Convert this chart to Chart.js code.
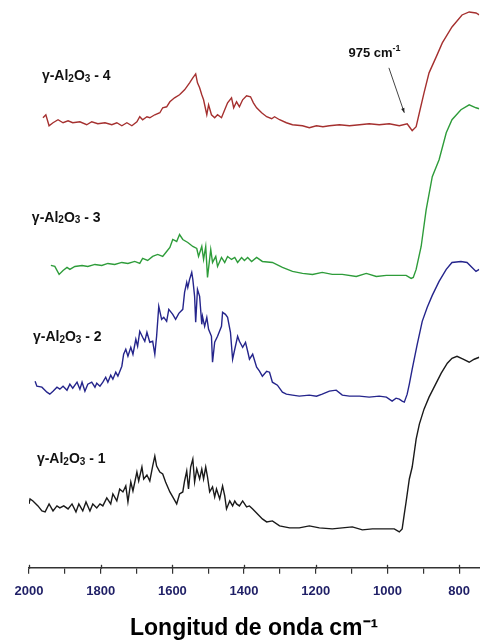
<!DOCTYPE html>
<html>
<head>
<meta charset="utf-8">
<script src="https://cdn.jsdelivr.net/npm/chart.js@4.4.1/dist/chart.umd.min.js"></script>
<style>
    html, body { margin: 0; padding: 0; background: #fff; }
    canvas { display: block; }
</style>
</head>
<body>
<canvas id="graficoFTIR" width="480" height="644"></canvas>
<script>
// Espectros FTIR (numero de onda en cm-1, intensidad en u.a. con desplazamiento)
const nombres = ['γ-Al2O3 - 1', 'γ-Al2O3 - 2', 'γ-Al2O3 - 3', 'γ-Al2O3 - 4'];
const ticksMayores = [2000, 1800, 1600, 1400, 1200, 1000, 800];

const numOnda4 = [1961,1953,1944,1933,1919,1905,1891,1878,1858,1839,
    1825,1808,1788,1769,1755,1741,1727,1713,1699,1691,
    1683,1671,1663,1649,1635,1627,1616,1607,1594,1580,
    1566,1552,1543,1535,1530,1524,1518,1513,1507,1504,
    1499,1491,1482,1474,1463,1454,1446,1435,1429,1421,
    1413,1404,1393,1382,1374,1365,1351,1337,1323,1315,
    1301,1282,1265,1237,1218,1198,1180,1162,1134,1106,
    1078,1051,1023,995,967,945,937,931,920,911,
    898,884,864,847,820,792,772,753,744];
const senal4 = [451,454,443,446,449,446,448,446,447,444,
    447,445,446,444,446,443,446,443,447,452,
    449,452,451,454,456,461,462,467,471,474,
    479,486,491,495,486,481,474,469,459,454,
    464,454,451,454,451,459,466,471,461,467,
    462,469,473,472,466,461,456,452,450,452,
    449,446,444,443,441,443,442,443,444,443,
    444,445,444,445,443,445,441,438,442,456,
    476,496,512,526,542,554,557,556,554];

const numOnda3 = [1939,1928,1916,1905,1894,1886,1872,1852,1836,1816,
    1797,1780,1761,1741,1724,1705,1691,1683,1669,1655,
    1641,1627,1616,1607,1599,1588,1580,1571,1557,1543,
    1532,1527,1518,1513,1507,1502,1493,1488,1479,1474,
    1463,1454,1446,1435,1426,1418,1407,1399,1390,1379,
    1365,1349,1321,1293,1265,1237,1209,1182,1154,1126,
    1087,1059,1031,1003,976,948,934,928,920,906,
    892,875,856,836,820,795,772,753,744];
const senal3 = [303,302,294,298,301,299,302,303,302,304,
    303,305,304,306,305,307,305,310,308,312,
    314,312,317,321,329,327,334,329,326,322,
    320,312,322,309,322,291,319,306,312,302,
    311,306,312,309,311,306,311,308,311,307,
    311,307,306,301,297,295,294,296,294,294,
    292,295,292,293,293,293,290,291,299,322,
    359,392,409,436,449,459,464,461,460];

const numOnda2 = [1983,1978,1964,1950,1942,1933,1922,1914,1905,1894,
    1886,1878,1866,1858,1852,1844,1836,1825,1816,1811,
    1802,1794,1786,1780,1772,1766,1758,1752,1741,1736,
    1730,1724,1716,1710,1702,1697,1691,1683,1677,1671,
    1663,1655,1649,1644,1638,1630,1624,1616,1610,1599,
    1591,1582,1571,1566,1560,1557,1552,1546,1543,1538,
    1535,1530,1524,1518,1516,1510,1504,1499,1491,1488,
    1482,1474,1463,1460,1452,1446,1438,1432,1426,1418,
    1413,1404,1396,1390,1385,1376,1365,1357,1349,1337,
    1329,1321,1307,1293,1282,1265,1246,1218,1198,1182,
    1162,1143,1126,1106,1078,1051,1023,1003,987,976,
    967,959,953,945,939,931,917,903,889,875,
    856,836,820,795,778,764,753,744];
const senal2 = [187,182,181,176,174,177,181,179,182,178,
    184,180,186,179,186,177,184,186,181,185,
    182,186,191,186,193,189,196,192,202,214,
    219,212,221,214,229,222,237,231,227,236,
    226,227,214,232,262,249,251,247,259,254,
    249,255,259,276,286,281,289,296,289,272,
    246,279,272,244,252,242,251,239,232,206,
    226,232,242,256,254,251,236,209,219,232,
    227,221,226,217,209,214,201,197,192,197,
    196,186,183,176,174,173,172,173,172,174,
    177,178,173,172,172,171,172,171,167,170,
    169,167,166,174,184,199,224,247,261,273,
    287,299,306,307,306,301,297,299];

const numOnda1 = [2000,1997,1989,1975,1964,1955,1944,1933,1922,1914,
    1903,1891,1880,1869,1861,1850,1841,1830,1822,1811,
    1802,1794,1783,1772,1766,1755,1747,1738,1730,1724,
    1716,1710,1699,1694,1685,1680,1671,1663,1655,1649,
    1644,1635,1627,1619,1607,1599,1588,1580,1571,1566,
    1560,1555,1549,1543,1538,1532,1524,1518,1513,1507,
    1502,1496,1488,1482,1477,1468,1460,1454,1449,1440,
    1432,1426,1421,1413,1404,1393,1385,1376,1357,1349,
    1337,1321,1301,1273,1246,1218,1190,1154,1126,1098,
    1070,1042,1014,981,967,959,953,948,939,931,
    920,911,898,884,867,850,833,820,806,789,
    772,758,744];
const senal1 = [64,69,67,62,57,56,64,57,62,60,
    62,59,64,56,64,57,66,57,64,60,
    64,62,70,64,74,67,79,76,82,66,
    86,77,96,87,101,89,93,87,102,112,
    102,96,94,86,76,71,64,74,76,87,
    97,79,101,109,86,99,89,99,89,101,
    91,76,81,71,79,69,82,72,59,67,
    62,67,64,62,67,61,62,59,52,49,
    46,47,42,40,40,42,40,39,40,41,
    38,39,39,39,36,39,54,66,89,101,
    129,144,159,171,183,195,205,210,212,209,
    206,209,211];

const colores = ['#1a1a1a', '#25258c', '#2e9c3a', '#a5302f'];

function armarPuntos(xs, ys) {
    return xs.map((x, i) => ({ x: x, y: ys[i] }));
}

const series = [
    armarPuntos(numOnda1, senal1),
    armarPuntos(numOnda2, senal2),
    armarPuntos(numOnda3, senal3),
    armarPuntos(numOnda4, senal4)
];

// Anclas de las etiquetas (en unidades de los ejes)
const anclasEtiquetas = [
    { x: 1978, y: 105 },
    { x: 1989, y: 227 },
    { x: 1992, y: 347 },
    { x: 1964, y: 489 }
];

const FUENTE = '"Liberation Sans", Arial, sans-serif';

function textoRico(ctx, partes, px, py, tam, color) {
    let cx = px;
    ctx.fillStyle = color;
    ctx.textBaseline = 'alphabetic';
    ctx.textAlign = 'left';
    partes.forEach(p => {
        const t = (p.sub || p.sup) ? Math.round(tam * 0.68) : tam;
        ctx.font = 'bold ' + t + 'px ' + FUENTE;
        let dy = 0;
        if (p.sub) dy = tam * 0.12;
        if (p.sup) dy = -tam * 0.42;
        ctx.fillText(p.t, cx, py + dy);
        cx += ctx.measureText(p.t).width;
    });
    return cx - px;
}

function anchoRico(ctx, partes, tam) {
    let w = 0;
    partes.forEach(p => {
        const t = (p.sub || p.sup) ? Math.round(tam * 0.68) : tam;
        ctx.font = 'bold ' + t + 'px ' + FUENTE;
        w += ctx.measureText(p.t).width;
    });
    return w;
}

const pluginTextos = {
    id: 'textos',
    afterDraw(chart) {
        const ctx = chart.ctx;
        const ex = chart.scales.x, ey = chart.scales.y;
        ctx.save();

        // etiquetas de cada espectro
        nombres.forEach((nombre, i) => {
            const num = nombre.slice(-1);
            const partes = [{ t: 'γ-Al' }, { t: '2', sub: true }, { t: 'O' }, { t: '3', sub: true }, { t: ' - ' + num }];
            const a = anclasEtiquetas[i];
            textoRico(ctx, partes, ex.getPixelForValue(a.x), ey.getPixelForValue(a.y), 14, '#111');
        });

        // anotacion 975 cm-1
        const partesAnot = [{ t: '975 cm' }, { t: '-1', sup: true }];
        const wAnot = anchoRico(ctx, partesAnot, 13);
        textoRico(ctx, partesAnot, ex.getPixelForValue(1036) - wAnot / 2, ey.getPixelForValue(512), 13, '#111');

        const x0 = ex.getPixelForValue(996), y0 = ey.getPixelForValue(501);
        const x1 = ex.getPixelForValue(953), y1 = ey.getPixelForValue(456);
        ctx.strokeStyle = '#444';
        ctx.lineWidth = 1;
        ctx.beginPath();
        ctx.moveTo(x0, y0);
        ctx.lineTo(x1, y1);
        ctx.stroke();
        const ang = Math.atan2(y1 - y0, x1 - x0);
        ctx.fillStyle = '#222';
        ctx.beginPath();
        ctx.moveTo(x1, y1);
        ctx.lineTo(x1 - 5 * Math.cos(ang - 0.35), y1 - 5 * Math.sin(ang - 0.35));
        ctx.lineTo(x1 - 5 * Math.cos(ang + 0.35), y1 - 5 * Math.sin(ang + 0.35));
        ctx.closePath();
        ctx.fill();

        // marcas mayores cruzan el eje
        ctx.strokeStyle = '#333';
        ctx.lineWidth = 1.3;
        const base = chart.chartArea.bottom;
        ticksMayores.forEach(v => {
            const px = Math.round(ex.getPixelForValue(v)) + 0.5;
            ctx.beginPath();
            ctx.moveTo(px, base - 3);
            ctx.lineTo(px, base + 1);
            ctx.stroke();
        });
        ctx.restore();
    }
};

const ctx = document.getElementById('graficoFTIR').getContext('2d');
new Chart(ctx, {
    type: 'line',
    data: {
        datasets: series.map((d, i) => ({
            label: nombres[i],
            data: d,
            borderColor: colores[i],
            borderWidth: 1.4,
            pointRadius: 0,
            tension: 0,
            fill: false
        }))
    },
    options: {
        responsive: false,
        animation: false,
        layout: { padding: { left: 29, right: 0, top: 0, bottom: 2 } },
        plugins: {
            legend: { display: false },
            tooltip: { enabled: false }
        },
        scales: {
            x: {
                type: 'linear',
                reverse: true,
                min: 744,
                max: 2000,
                border: { color: '#333', width: 1.5 },
                grid: { drawOnChartArea: false, tickLength: 6, color: '#333', lineWidth: 1.2 },
                ticks: {
                    stepSize: 100,
                    includeBounds: false,
                    autoSkip: false,
                    maxRotation: 0,
                    padding: 10,
                    color: '#1f1f66',
                    font: { family: FUENTE, size: 13, weight: 'bold' },
                    callback: v => (v % 200 === 0 ? String(v) : '')
                },
                title: {
                    display: true,
                    text: 'Longitud de onda cm⁻¹',
                    color: '#000',
                    font: { family: FUENTE, size: 23, weight: 'bold' },
                    padding: { top: 5, bottom: 0 }
                }
            },
            y: {
                display: false,
                min: 0,
                max: 569
            }
        }
    },
    plugins: [pluginTextos]
});
</script>
</body>
</html>
